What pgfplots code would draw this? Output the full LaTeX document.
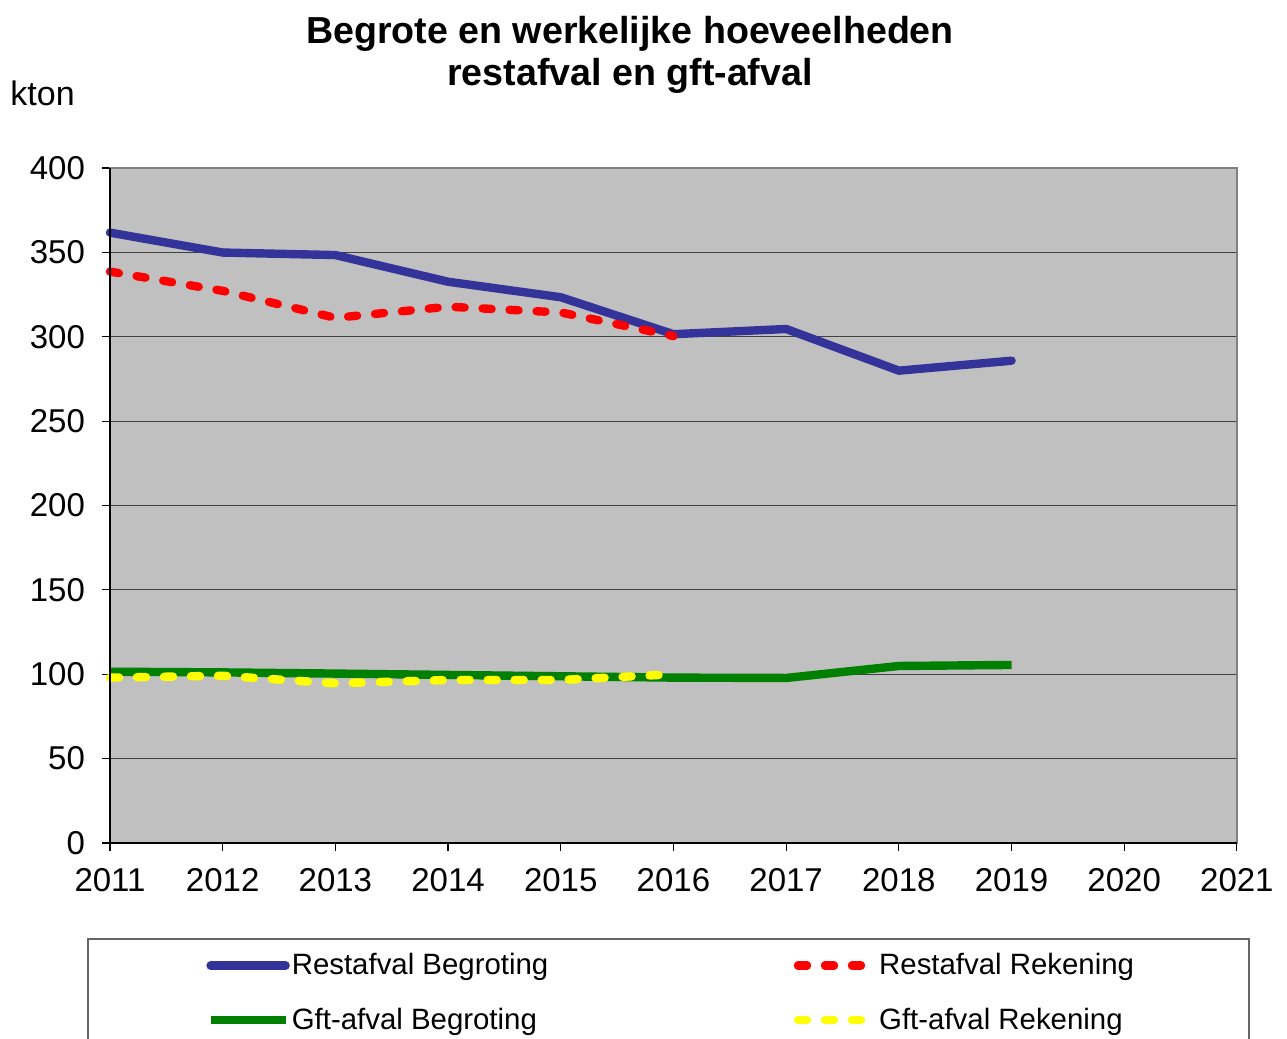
\documentclass[border=0pt]{standalone}
\usepackage{pgfplots}
\pgfplotsset{compat=1.18}
\usepackage{fontspec}
\setmainfont{Liberation Sans}
\definecolor{cblue}{HTML}{333399}
\definecolor{cred}{HTML}{FF0000}
\definecolor{cgreen}{HTML}{008000}
\definecolor{cyellow}{HTML}{FFFF00}
\definecolor{cbg}{HTML}{C0C0C0}
\begin{document}
\begin{tikzpicture}
\begin{axis}[
  scale only axis,
  width=563.5pt, height=337.5pt,
  at={(0,0)}, anchor=south west,
  xmin=2011, xmax=2021, ymin=0, ymax=400,
  xtick={2011,...,2021}, ytick={0,50,...,400},
  /pgf/number format/1000 sep={},
  /pgf/number format/assume math mode=true,
  ticklabel style={font=\fontsize{16.5}{19}\selectfont},
  yticklabel style={xshift=-5pt},
  xticklabel style={yshift=-5pt},
  tick align=outside, tickwidth=4pt,
  major tick style={black, line width=0.6pt},
  xtick pos=bottom, ytick pos=left,
  axis background/.style={fill=cbg},
  axis line style={draw=gray, line width=1pt},
  ymajorgrids, grid style={draw=black!75, line width=0.5pt},
  clip=false,
  legend columns=2,
  legend style={draw=none, fill=none, at={(rel axis cs:0,0)}, anchor=north west,
    xshift=48pt, yshift=-53pt, font=\fontsize{14.7}{17}\selectfont,
    /tikz/every even column/.append style={column sep=0pt},
    row sep=11pt, inner sep=0pt, nodes={inner xsep=1pt}},
  legend cell align=left,
  legend image code/.code={\draw[#1] (0pt,0pt) -- (37.5pt,0pt);},
  every axis plot/.append style={line width=4.2pt, line join=round},
]
\addplot[cblue, line cap=round] coordinates {(2011,361.7) (2012,349.9) (2013,348.4) (2014,332.6) (2015,323.4) (2016,301.5) (2017,304.6) (2018,279.9) (2019,285.8)};
\addlegendentry{\makebox[250pt][l]{Restafval Begroting}}
\addplot[cred, line cap=round, dash pattern=on 4.5pt off 9pt] coordinates {(2011,338.6) (2012,327.2) (2013,311.2) (2014,317.8) (2015,314.4) (2016,300.4)};
\addlegendentry{Restafval Rekening}
\addplot[cgreen] coordinates {(2011,101.5) (2012,101.1) (2013,100.4) (2014,99.6) (2015,98.8) (2016,98.0) (2017,97.8) (2018,104.9) (2019,105.5)};
\addlegendentry{\makebox[250pt][l]{Gft-afval Begroting}}
\addplot[cyellow, line cap=round, dash pattern=on 4.5pt off 9pt] coordinates {(2011,98.0) (2012,99.1) (2013,94.6) (2014,96.6) (2015,96.6) (2016,100.0)};
\addlegendentry{Gft-afval Rekening}
\draw[black, line width=1pt] (rel axis cs:0,1) -- (rel axis cs:0,0) -- (rel axis cs:1,0);
\end{axis}
\node[align=center, font=\fontsize{18.8}{21}\selectfont\bfseries, anchor=center] at (260pt,394pt) {Begrote en werkelijke hoeveelheden\\restafval en gft-afval};
\node[anchor=west, font=\fontsize{17}{20}\selectfont, inner sep=0pt] at (-50pt,375pt) {kton};
\draw[gray!80!black, line width=0.8pt] (-11pt,-100pt) -- (-11pt,-48pt) -- (569.5pt,-48pt) -- (569.5pt,-100pt);
\pgfresetboundingbox
\useasboundingbox (-55pt,-98pt) rectangle (588.5pt,421.5pt);
\end{tikzpicture}
\end{document}
